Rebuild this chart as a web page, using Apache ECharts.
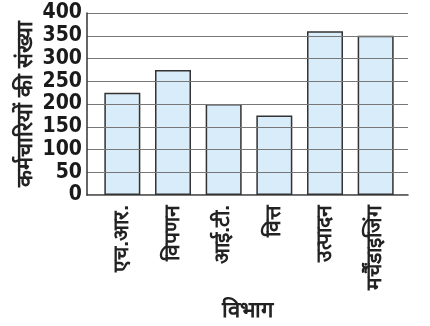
<!DOCTYPE html>
<html>
<head>
<meta charset="utf-8">
<script src="https://cdn.jsdelivr.net/npm/echarts@6/dist/echarts.min.js"></script>
<style>
  html, body { margin: 0; padding: 0; background: #fff; }
  #main { width: 430px; height: 326px; }
</style>
</head>
<body>
<div id="main"></div>
<script>
var departments = ["एच.आर.", "विपणन", "आई.टी.", "वित्त", "उत्पादन", "मर्चैंडाइजिंग"];
var employees = [225, 275, 200, 175, 360, 350];
var yTicks = [0, 50, 100, 150, 200, 250, 300, 350, 400];

var chart = echarts.init(document.getElementById("main"));
var numFont = '"Liberation Sans Narrow", "DejaVu Sans Condensed", "Liberation Sans", sans-serif';

chart.setOption({
  animation: false,
  backgroundColor: '#fff',
  grid: [
    // axis frame + grid lines
    { left: 87, right: 22, top: 13, bottom: 131, outerBoundsMode: 'none' },
    // bars sit in a slightly narrower band
    { left: 97, right: 29, top: 13, bottom: 131, outerBoundsMode: 'none' }
  ],
  xAxis: [{
    gridIndex: 0,
    type: 'value',
    min: 0,
    max: 1,
    axisLine: { show: true, onZero: false, lineStyle: { color: '#333', width: 1.5 } },
    axisTick: { show: false },
    axisLabel: { show: false },
    splitLine: { show: false },
    name: 'विभाग',
    nameLocation: 'middle',
    nameGap: 105,
    nameTextStyle: { fontSize: 22, fontWeight: 'bold', color: '#222' }
  }, {
    gridIndex: 1,
    type: 'category',
    data: departments,
    axisLine: { show: false },
    axisTick: { show: false },
    axisLabel: {
      rotate: 90,
      margin: 10,
      fontSize: 21,
      fontWeight: 'bold',
      color: '#222',
      interval: 0
    }
  }],
  yAxis: [{
    gridIndex: 0,
    type: 'value',
    min: yTicks[0],
    max: yTicks[yTicks.length - 1],
    interval: 50,
    z: 5,
    axisLine: { show: true, lineStyle: { color: '#333', width: 1.5 } },
    axisTick: { show: false },
    axisLabel: {
      margin: 5,
      fontSize: 21,
      fontWeight: 'bold',
      fontFamily: numFont,
      color: '#1a1a1a'
    },
    splitLine: { show: true, lineStyle: { color: '#777', width: 1.2 } },
    name: 'कर्मचारियों की संख्या',
    nameLocation: 'middle',
    nameRotate: 90,
    nameGap: 50,
    nameMoveOverlap: false,
    nameTextStyle: { fontSize: 22, fontWeight: 'bold', color: '#222' }
  }, {
    gridIndex: 1,
    type: 'value',
    min: 0,
    max: 400,
    show: false
  }],
  series: [{
    type: 'bar',
    xAxisIndex: 1,
    yAxisIndex: 1,
    data: employees,
    barWidth: 36,
    itemStyle: {
      color: '#d8ecf9',
      borderColor: '#333',
      borderWidth: 1.5
    }
  }]
});
</script>
</body>
</html>
